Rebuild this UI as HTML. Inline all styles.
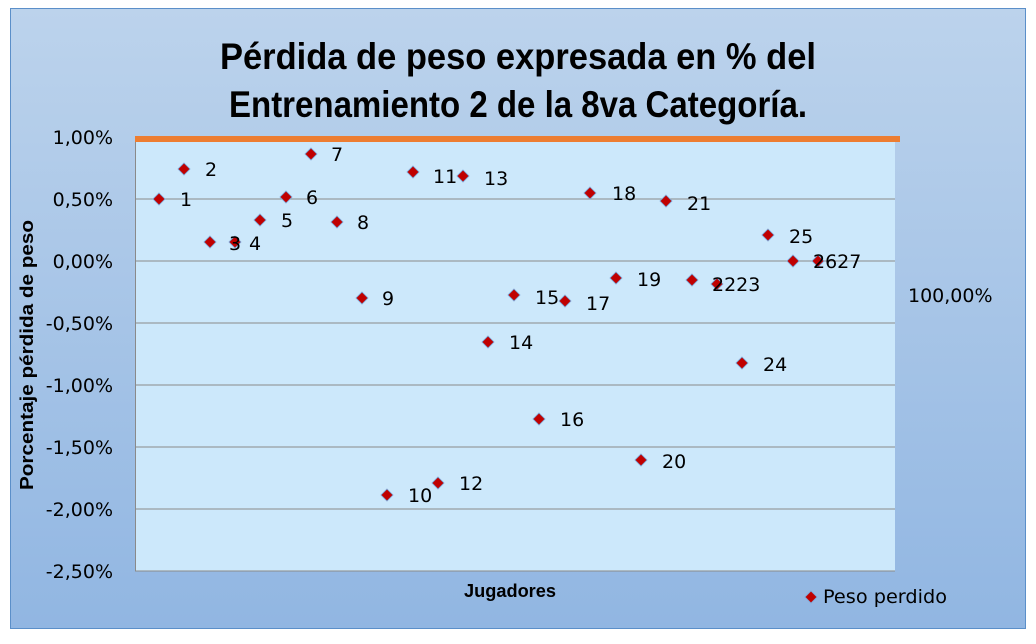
<!DOCTYPE html>
<html><head><meta charset="utf-8"><style>
body{margin:0;width:1036px;height:639px;background:#fff;overflow:hidden}
</style></head><body>
<svg width="1036" height="639" xmlns="http://www.w3.org/2000/svg" font-family="'DejaVu Sans','Liberation Sans',sans-serif">
<defs>
<linearGradient id="bg" x1="0" y1="0" x2="0" y2="1"><stop offset="0" stop-color="#bcd3ec"/><stop offset="1" stop-color="#91b6e2"/></linearGradient>
<path id="d" d="M0,-6 L6,0 L0,6 L-6,0Z" fill="#c00000" stroke="#7aa6d8" stroke-width="0.8"/>
</defs>
<rect x="10.5" y="8.5" width="1015" height="620" fill="url(#bg)" stroke="#5b8fc9"/>
<g font-family="'Liberation Sans',sans-serif" font-weight="bold" font-size="37">
<text x="220" y="69" textLength="596" lengthAdjust="spacingAndGlyphs">Pérdida de peso expresada en % del</text>
<text x="229" y="117" textLength="578" lengthAdjust="spacingAndGlyphs">Entrenamiento 2 de la 8va Categoría.</text>
</g>
<rect x="135" y="137" width="760" height="434" fill="#cce8fb"/>
<g stroke="#8a8a8a" stroke-width="1">
<line x1="135" y1="199" x2="895" y2="199"/><line x1="135" y1="261" x2="895" y2="261"/>
<line x1="135" y1="323" x2="895" y2="323"/><line x1="135" y1="385" x2="895" y2="385"/>
<line x1="135" y1="447" x2="895" y2="447"/><line x1="135" y1="509" x2="895" y2="509"/>
<line x1="135" y1="571" x2="895" y2="571"/><line x1="135.5" y1="137" x2="135.5" y2="571"/>
</g>
<line x1="135" y1="139" x2="900" y2="139" stroke="#ed7d31" stroke-width="6"/>
<g font-size="19" text-anchor="end">
<text x="113" y="144">1,00%</text><text x="113" y="206">0,50%</text><text x="113" y="268">0,00%</text>
<text x="113" y="330">-0,50%</text><text x="113" y="392">-1,00%</text><text x="113" y="454">-1,50%</text>
<text x="113" y="516">-2,00%</text><text x="113" y="578">-2,50%</text>
</g>
<text transform="translate(33,355) rotate(-90)" text-anchor="middle" font-size="18" font-weight="bold" font-family="'Liberation Sans',sans-serif" textLength="270" lengthAdjust="spacingAndGlyphs">Porcentaje pérdida de peso</text>
<text x="510" y="597" text-anchor="middle" font-size="18" font-weight="bold" font-family="'Liberation Sans',sans-serif" textLength="92" lengthAdjust="spacingAndGlyphs">Jugadores</text>
<text x="908" y="302" font-size="19">100,00%</text>
<use href="#d" x="811" y="597"/>
<text x="823" y="603" font-size="19" textLength="124" lengthAdjust="spacingAndGlyphs">Peso perdido</text>
<g font-size="19">
<use href="#d" x="159" y="199"/><text x="180" y="206">1</text>
<use href="#d" x="184" y="169"/><text x="205" y="176">2</text>
<use href="#d" x="210" y="242"/><use href="#d" x="235" y="242"/><text x="229" y="250">3</text><text x="249" y="250">4</text>
<use href="#d" x="260" y="220"/><text x="281" y="227">5</text>
<use href="#d" x="286" y="197"/><text x="306" y="204">6</text>
<use href="#d" x="311" y="154"/><text x="331" y="161">7</text>
<use href="#d" x="337" y="222"/><text x="357" y="229">8</text>
<use href="#d" x="362" y="298"/><text x="382" y="305">9</text>
<use href="#d" x="387" y="495"/><text x="408" y="502">10</text>
<use href="#d" x="413" y="172"/><text x="433" y="183">11</text>
<use href="#d" x="438" y="483"/><text x="459" y="490">12</text>
<use href="#d" x="463" y="176"/><text x="484" y="185">13</text>
<use href="#d" x="488" y="342"/><text x="509" y="349">14</text>
<use href="#d" x="514" y="295"/><text x="535" y="304">15</text>
<use href="#d" x="539" y="419"/><text x="560" y="426">16</text>
<use href="#d" x="565" y="301"/><text x="586" y="310">17</text>
<use href="#d" x="590" y="193"/><text x="612" y="200">18</text>
<use href="#d" x="616" y="278"/><text x="637" y="286">19</text>
<use href="#d" x="641" y="460"/><text x="662" y="468">20</text>
<use href="#d" x="666" y="201"/><text x="687" y="210">21</text>
<use href="#d" x="692" y="280"/><use href="#d" x="717" y="284"/><text x="712" y="291">2223</text>
<use href="#d" x="742" y="363"/><text x="763" y="371">24</text>
<use href="#d" x="768" y="235"/><text x="789" y="243">25</text>
<use href="#d" x="793" y="261"/><use href="#d" x="818" y="261"/><text x="813" y="268">2627</text>
</g>
</svg>
</body></html>
